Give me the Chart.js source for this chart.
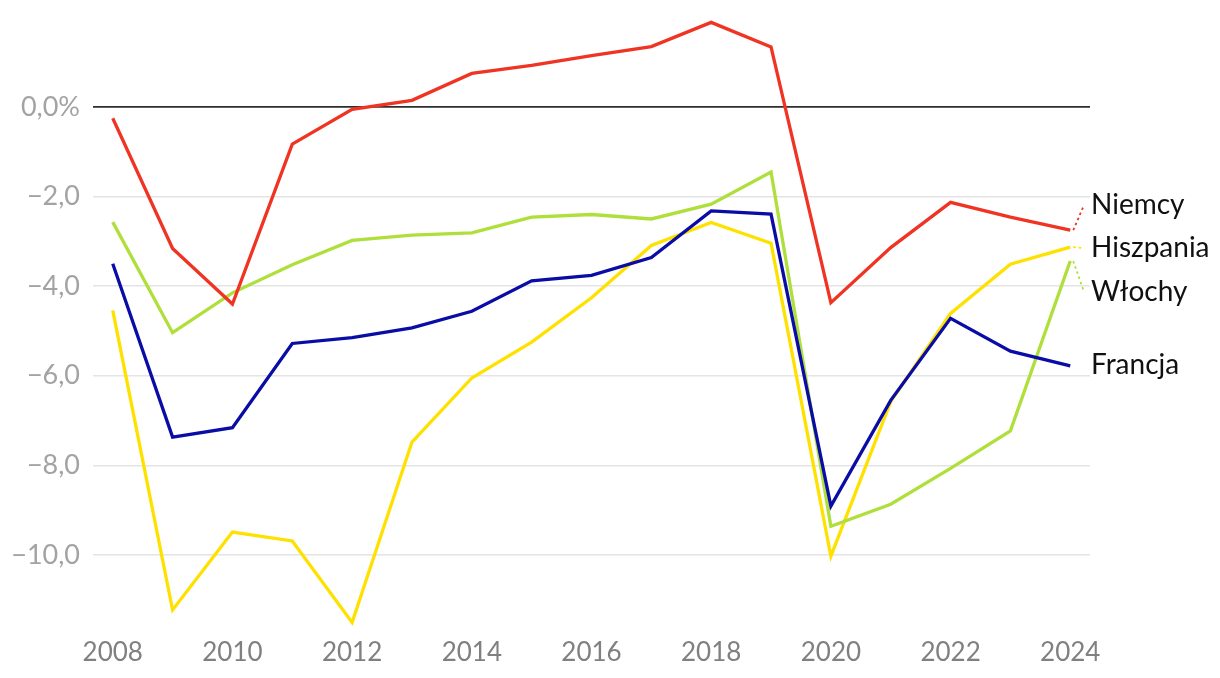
<!DOCTYPE html>
<html>
<head>
<meta charset="utf-8">
<script src="https://cdn.jsdelivr.net/npm/chart.js@4"></script>
<style>
  html, body { margin: 0; padding: 0; background: #fff; }
  #wrap { position: relative; width: 1220px; height: 678px; }
</style>
</head>
<body>
<div id="wrap"><canvas id="chart"></canvas></div>
<script>
// Years on the x axis
const years = [2008, 2009, 2010, 2011, 2012, 2013, 2014, 2015, 2016, 2017, 2018, 2019, 2020, 2021, 2022, 2023, 2024];

// Series values (% of GDP)
const niemcy    = [-0.25, -3.16, -4.40, -0.83, -0.05, 0.15, 0.75, 0.93, 1.15, 1.35, 1.89, 1.34, -4.37, -3.14, -2.13, -2.46, -2.75];
const francja   = [-3.50, -7.37, -7.16, -5.28, -5.15, -4.93, -4.56, -3.88, -3.76, -3.36, -2.32, -2.39, -8.91, -6.55, -4.72, -5.45, -5.78];
const wlochy    = [-2.57, -5.04, -4.15, -3.52, -2.98, -2.86, -2.81, -2.46, -2.40, -2.50, -2.17, -1.45, -9.36, -8.87, -8.07, -7.23, -3.44];
const hiszpania = [-4.54, -11.23, -9.49, -9.69, -11.51, -7.48, -6.05, -5.25, -4.26, -3.09, -2.58, -3.04, -10.03, -6.58, -4.61, -3.51, -3.13];

// Tick labels
const xTicks = [2008, 2010, 2012, 2014, 2016, 2018, 2020, 2022, 2024];
const yTicks = [0, -2, -4, -6, -8, -10];

// End-of-line labels, where (in data units) their text sits, and whether a leader is drawn
const seriesNames = ['Niemcy', 'Francja', 'Włochy', 'Hiszpania'];
const labelAnchors = [-2.19, -5.77, -4.13, -3.15];
const hasLeader = [true, false, true, true];

const colors = {
    niemcy: '#ef3423',
    francja: '#0a0ca6',
    wlochy: '#afdf3b',
    hiszpania: '#ffe100'
};

const toPoints = vals => vals.map((v, i) => ({ x: years[i], y: v }));

const fmtY = v => v === 0 ? '0,0%' : (v < 0 ? '\u2212' : '') + Math.abs(v).toFixed(1).replace('.', ',');

// draws the series names to the right of the plot with small dotted leaders
const endLabels = {
    id: 'endLabels',
    afterDatasetsDraw(chart) {
        const { ctx, scales: { x, y } } = chart;
        const lastX = x.getPixelForValue(years[years.length - 1]);
        const textX = chart.chartArea.right + 1;
        ctx.save();
        ctx.font = '28px Lato, "Open Sans", sans-serif';
        ctx.textBaseline = 'middle';
        ctx.textAlign = 'left';
        chart.data.datasets.forEach((ds, i) => {
            const lastY = y.getPixelForValue(ds.data[ds.data.length - 1].y);
            const ly = y.getPixelForValue(labelAnchors[i]);
            if (hasLeader[i]) {
                ctx.strokeStyle = ds.borderColor;
                ctx.lineWidth = 1.8;
                ctx.setLineDash([2.5, 3]);
                ctx.beginPath();
                ctx.moveTo(lastX + 3, lastY);
                ctx.lineTo(textX - 7, ly);
                ctx.stroke();
            }
            ctx.setLineDash([]);
            ctx.fillStyle = '#111';
            ctx.fillText(seriesNames[i], textX, ly);
        });
        ctx.restore();
    }
};

const mkSet = (label, vals, color) => ({
    label: label,
    data: toPoints(vals),
    borderColor: color,
    backgroundColor: color,
    borderWidth: 3.3,
    pointRadius: 0,
    tension: 0,
    fill: false
});

new Chart(document.getElementById('chart'), {
    type: 'line',
    data: {
        datasets: [
            mkSet(seriesNames[0], niemcy, colors.niemcy),
            mkSet(seriesNames[1], francja, colors.francja),
            mkSet(seriesNames[2], wlochy, colors.wlochy),
            mkSet(seriesNames[3], hiszpania, colors.hiszpania)
        ]
    },
    options: {
        responsive: true,
        maintainAspectRatio: false,
        animation: false,
        layout: { padding: { top: 4, right: 130, left: 0, bottom: 0 } },
        plugins: {
            legend: { display: false },
            tooltip: { enabled: false }
        },
        scales: {
            x: {
                type: 'linear',
                min: 2007.67,
                max: 2024.33,
                afterBuildTicks: s => { s.ticks = xTicks.map(v => ({ value: v })); },
                afterFit: s => { s.height = 47; s.paddingLeft = 0; s.paddingRight = 0; },
                grid: { display: false, drawTicks: false },
                border: { display: false },
                ticks: {
                    padding: 6,
                    color: '#808080',
                    font: { family: 'Lato', size: 26 },
                    maxRotation: 0,
                    callback: v => String(v)
                }
            },
            y: {
                min: -11.7,
                max: 2.3,
                afterBuildTicks: s => { s.ticks = yTicks.map(v => ({ value: v })); },
                afterFit: s => { s.width = 93; s.paddingTop = 0; s.paddingBottom = 0; },
                border: { display: false },
                grid: {
                    drawTicks: false,
                    color: c => c.tick && c.tick.value === 0 ? '#2e2e2e' : '#e4e4e4',
                    lineWidth: c => c.tick && c.tick.value === 0 ? 1.7 : 1.5
                },
                ticks: {
                    padding: 13,
                    color: '#a3a3a3',
                    font: { family: 'Lato', size: 27 },
                    callback: v => fmtY(v)
                }
            }
        }
    },
    plugins: [endLabels]
});
</script>
</body>
</html>
